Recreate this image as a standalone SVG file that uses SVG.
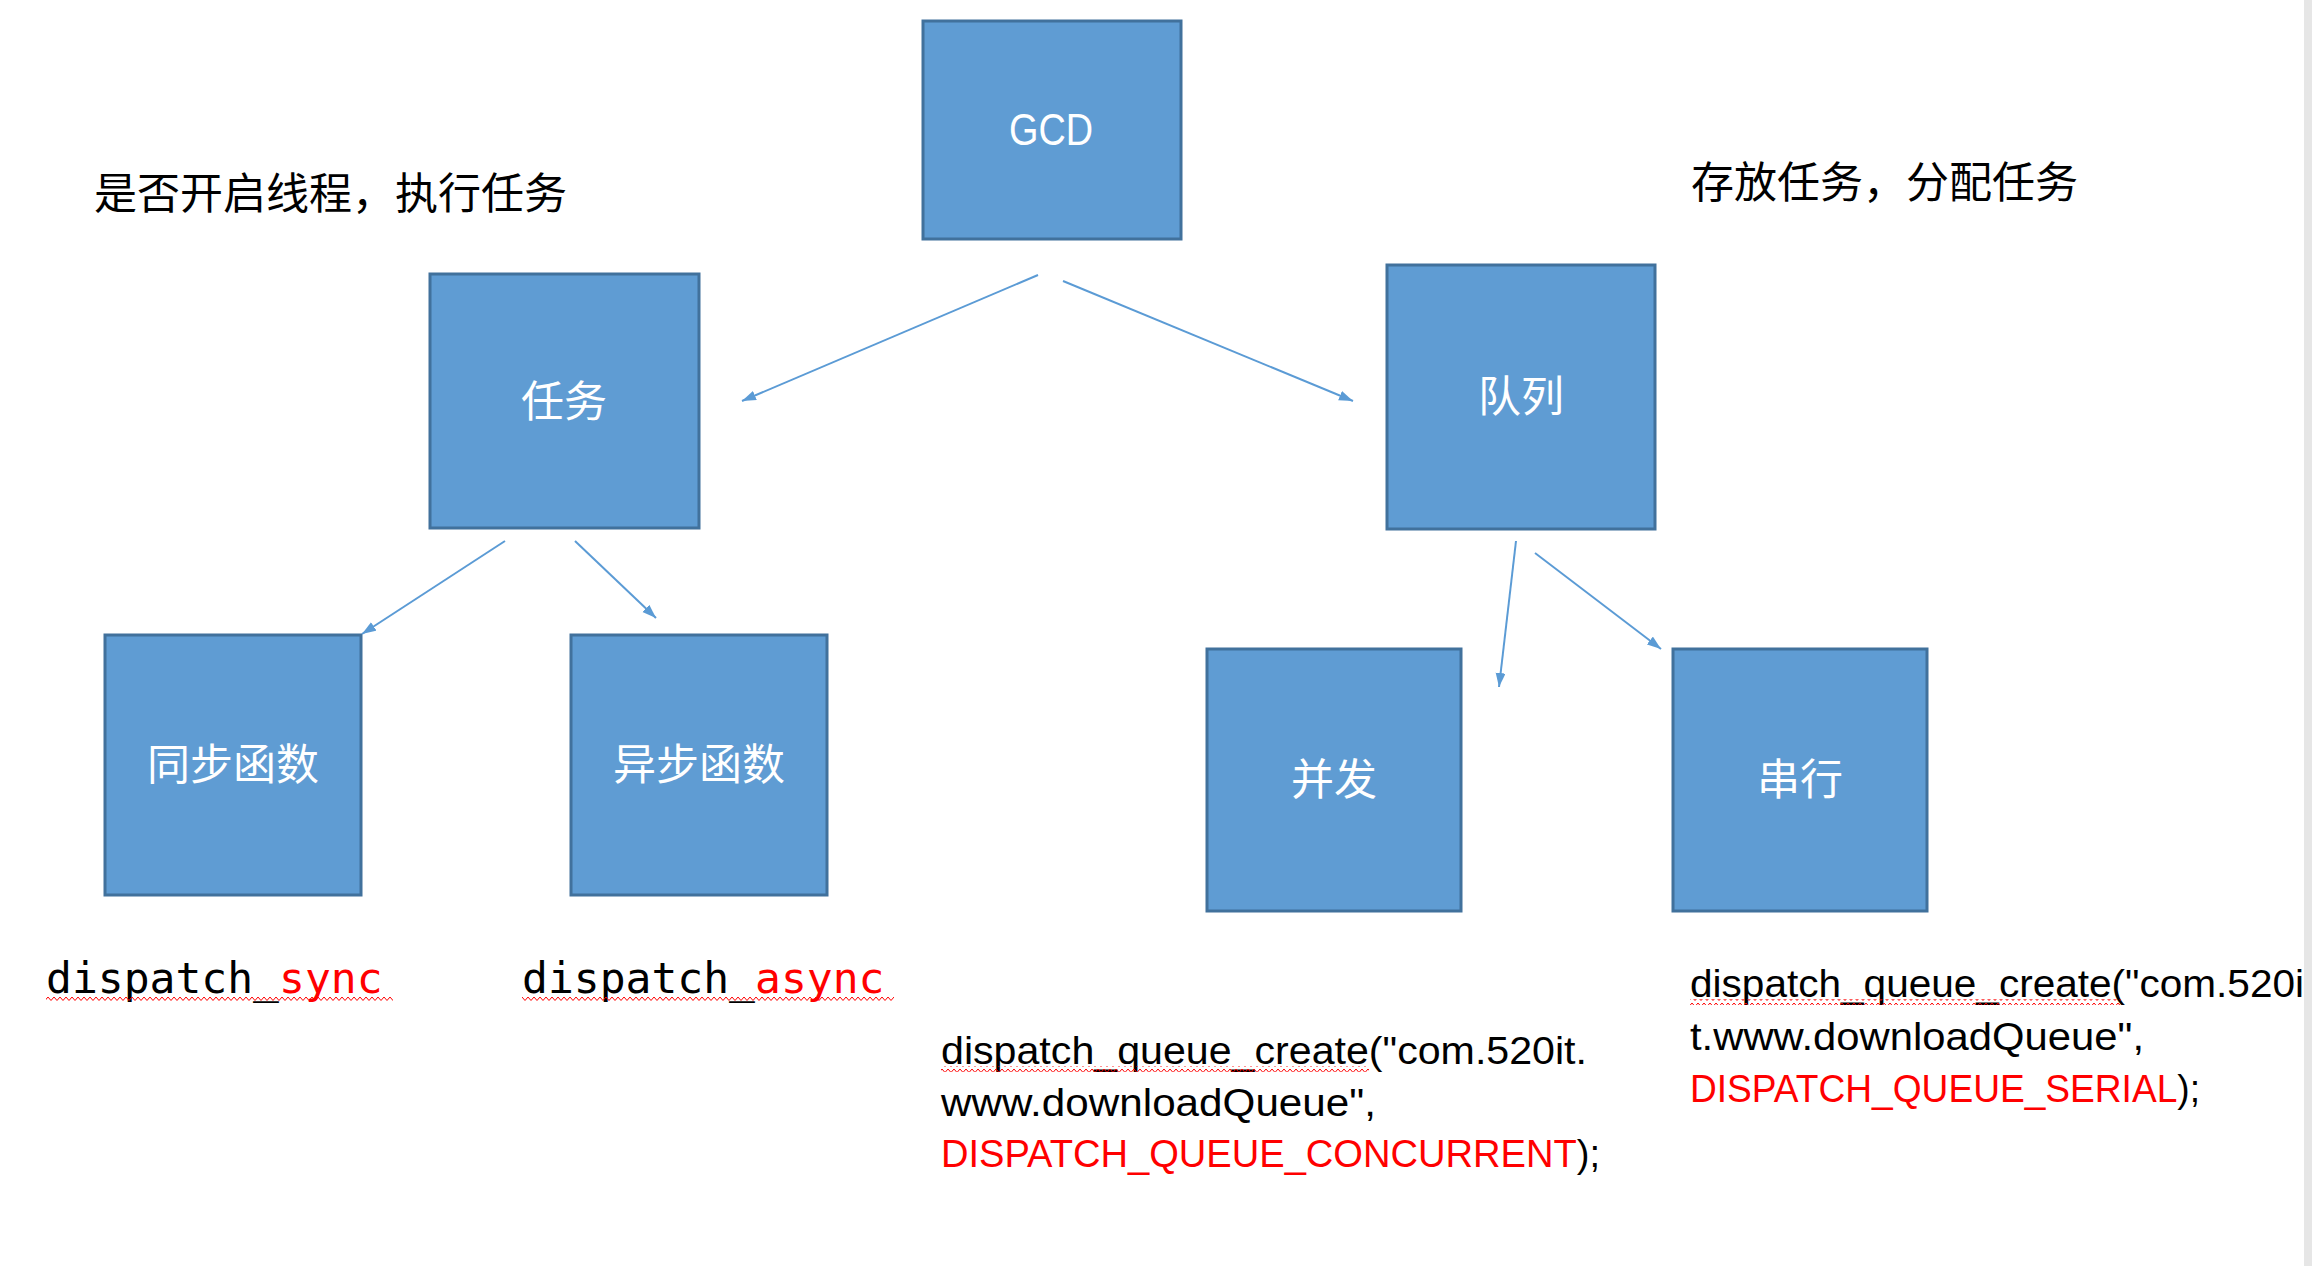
<svg xmlns="http://www.w3.org/2000/svg" width="2312" height="1266" viewBox="0 0 2312 1266">
<style>
.box{fill:#5f9cd3;stroke:#41719c;stroke-width:3}
.lbl{fill:#ffffff;font-family:"Noto Sans CJK SC","Liberation Sans",sans-serif;font-size:43px;text-anchor:middle}
.lat{fill:#ffffff;font-family:"Liberation Sans",sans-serif;font-size:44px;text-anchor:middle}
.note{fill:#000000;font-family:"Noto Sans CJK SC",sans-serif;font-size:43px}
.mono{fill:#000000;font-family:"DejaVu Sans Mono",monospace;font-size:43px}
.code{fill:#000000;font-family:"Liberation Sans",sans-serif;font-size:38px}
.red{fill:#ff0000}
.conn{stroke:#5b9bd5;stroke-width:2;fill:none;marker-end:url(#arr)}
</style>
<defs>
<marker id="arr" markerUnits="userSpaceOnUse" markerWidth="15" markerHeight="11" refX="14" refY="5" orient="auto">
<path d="M0,0 L14,5 L0,10 z" fill="#5b9bd5"/>
</marker>
<pattern id="wave" patternUnits="userSpaceOnUse" width="6" height="6">
<path d="M0,1 L3,4.5 L6,1" fill="none" stroke="#ff0000" stroke-width="1"/>
</pattern>
</defs>
<rect x="0" y="0" width="2312" height="1266" fill="#ffffff"/>
<rect x="2304" y="0" width="8" height="1266" fill="#e6e6e6"/>

<g id="gcd"><rect class="box" x="923" y="21" width="258" height="218"/><text class="lat" x="1051" y="145" textLength="84" lengthAdjust="spacingAndGlyphs">GCD</text></g>
<g id="task"><rect class="box" x="430" y="274" width="269" height="254"/><text class="lbl" x="564" y="417">任务</text></g>
<g id="queue"><rect class="box" x="1387" y="265" width="268" height="264"/><text class="lbl" x="1521" y="412">队列</text></g>
<g id="sync"><rect class="box" x="105" y="635" width="256" height="260"/><text class="lbl" x="233" y="780">同步函数</text></g>
<g id="async"><rect class="box" x="571" y="635" width="256" height="260"/><text class="lbl" x="699" y="780">异步函数</text></g>
<g id="concurrent"><rect class="box" x="1207" y="649" width="254" height="262"/><text class="lbl" x="1334" y="795">并发</text></g>
<g id="serial"><rect class="box" x="1673" y="649" width="254" height="262"/><text class="lbl" x="1800" y="795">串行</text></g>

<g id="connectors">
<line class="conn" x1="1038" y1="275" x2="742" y2="401"/>
<line class="conn" x1="1063" y1="281" x2="1353" y2="401"/>
<line class="conn" x1="505" y1="541" x2="362" y2="634"/>
<line class="conn" x1="575" y1="541" x2="656" y2="618"/>
<line class="conn" x1="1516" y1="541" x2="1499" y2="687"/>
<line class="conn" x1="1535" y1="553" x2="1661" y2="649"/>
</g>

<g id="notes">
<text class="note" x="94" y="209">是否开启线程，执行任务</text>
<text class="note" x="1691" y="198">存放任务，分配任务</text>
</g>

<g id="code">
<text class="mono" x="46" y="993">dispatch_<tspan class="red">sync</tspan></text>
<rect x="46" y="995" width="347" height="6" fill="url(#wave)"/>
<text class="mono" x="522" y="993">dispatch_<tspan class="red">async</tspan></text>
<rect x="522" y="995" width="372" height="6" fill="url(#wave)"/>

<text class="code" x="941" y="1064" textLength="646" lengthAdjust="spacingAndGlyphs">dispatch_queue_create("com.520it.</text>
<rect x="941" y="1066" width="428" height="6" fill="url(#wave)"/>
<text class="code" x="941" y="1116" textLength="435" lengthAdjust="spacingAndGlyphs">www.downloadQueue",</text>
<text class="code" x="941" y="1167" textLength="659" lengthAdjust="spacingAndGlyphs"><tspan class="red">DISPATCH_QUEUE_CONCURRENT</tspan>);</text>

<text class="code" x="1690" y="997" textLength="614" lengthAdjust="spacingAndGlyphs">dispatch_queue_create("com.520i</text>
<rect x="1690" y="999" width="431" height="6" fill="url(#wave)"/>
<text class="code" x="1690" y="1050" textLength="454" lengthAdjust="spacingAndGlyphs">t.www.downloadQueue",</text>
<text class="code" x="1690" y="1102" textLength="510" lengthAdjust="spacingAndGlyphs"><tspan class="red">DISPATCH_QUEUE_SERIAL</tspan>);</text>
</g>
</svg>
